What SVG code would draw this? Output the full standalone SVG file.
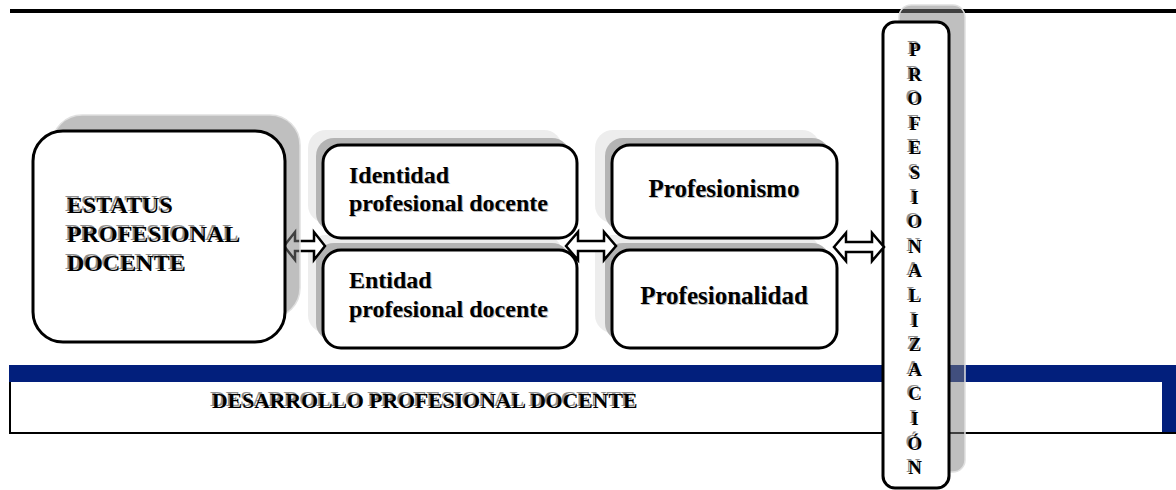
<svg xmlns="http://www.w3.org/2000/svg" width="1176" height="490" viewBox="0 0 1176 490">
<style>
.box{fill:#fff;stroke:#000;stroke-width:3}
.sh{fill:#808080;fill-opacity:.5;stroke:#e0e0e0;stroke-width:1.5}
.shl{fill:#ededed}
.shm{fill:#b4b4b4}
text{font-family:'Liberation Serif','DejaVu Serif',serif;font-weight:700}
.t{fill:#000}
.tg{fill:#8f8f8f}
.ts{fill:#bbbbbb}
.arr{fill:#fff;stroke:#000;stroke-width:2.5;stroke-linejoin:miter}
</style>
<rect id="topline" x="10" y="9" width="1166" height="4" fill="#000"/>
<g id="desarrollo">
<rect x="9" y="365" width="1167" height="17" fill="#021f7c"/>
<rect x="1162" y="365" width="14" height="68" fill="#021f7c"/>
<line x1="10" y1="382" x2="10" y2="434" stroke="#000" stroke-width="2"/>
<line x1="9" y1="433" x2="1176" y2="433" stroke="#000" stroke-width="2"/>
<text class="tg" x="210" y="406" font-size="21.7">DESARROLLO PROFESIONAL DOCENTE</text>
<text class="t" x="212" y="408" font-size="21.7">DESARROLLO PROFESIONAL DOCENTE</text>
</g>
<g id="entidad">
<rect class="shl" x="308" y="235" width="254" height="98" rx="18"/>
<rect class="shm" x="316" y="243" width="254" height="98" rx="18"/>
<rect class="box" x="323" y="250" width="254" height="98" rx="18"/>
<text class="ts" x="350" y="289" font-size="24">Entidad<tspan x="350" dy="29">profesional docente</tspan></text>
<text class="t" x="349" y="288" font-size="24">Entidad<tspan x="349" dy="29">profesional docente</tspan></text>
</g>
<g id="identidad">
<rect class="shl" x="308" y="130" width="254" height="93" rx="18"/>
<rect class="shm" x="316" y="138" width="254" height="93" rx="18"/>
<rect class="box" x="323" y="145" width="254" height="93" rx="18"/>
<text class="ts" x="350" y="184" font-size="24">Identidad<tspan x="350" dy="28">profesional docente</tspan></text>
<text class="t" x="349" y="183" font-size="24">Identidad<tspan x="349" dy="28">profesional docente</tspan></text>
</g>
<g id="profesionalidad">
<rect class="shl" x="595" y="235" width="225" height="98" rx="18"/>
<rect class="shm" x="605" y="243" width="225" height="98" rx="18"/>
<rect class="box" x="612" y="250" width="225" height="98" rx="18"/>
<text class="ts" x="725" y="305" font-size="25" text-anchor="middle">Profesionalidad</text>
<text class="t" x="724" y="304" font-size="25" text-anchor="middle">Profesionalidad</text>
</g>
<g id="profesionismo">
<rect class="shl" x="595" y="130" width="225" height="93" rx="18"/>
<rect class="shm" x="605" y="138" width="225" height="93" rx="18"/>
<rect class="box" x="612" y="145" width="225" height="93" rx="18"/>
<text class="ts" x="725" y="198" font-size="25" text-anchor="middle">Profesionismo</text>
<text class="t" x="724" y="197" font-size="25" text-anchor="middle">Profesionismo</text>
</g>
<g id="profesionalizacion">
<rect class="sh" x="899" y="5" width="66" height="467" rx="12"/>
<rect class="box" x="883" y="22" width="66" height="466" rx="12"/>
<text class="tg" font-size="19" text-anchor="middle"><tspan x="913" y="54">P</tspan><tspan x="913" dy="24.6">R</tspan><tspan x="913" dy="24.6">O</tspan><tspan x="913" dy="24.6">F</tspan><tspan x="913" dy="24.6">E</tspan><tspan x="913" dy="24.6">S</tspan><tspan x="913" dy="24.6">I</tspan><tspan x="913" dy="24.6">O</tspan><tspan x="913" dy="24.6">N</tspan><tspan x="913" dy="24.6">A</tspan><tspan x="913" dy="24.6">L</tspan><tspan x="913" dy="24.6">I</tspan><tspan x="913" dy="24.6">Z</tspan><tspan x="913" dy="24.6">A</tspan><tspan x="913" dy="24.6">C</tspan><tspan x="913" dy="24.6">I</tspan><tspan x="913" dy="24.6">Ó</tspan><tspan x="913" dy="24.6">N</tspan></text>
<text class="t" font-size="19" text-anchor="middle"><tspan x="915" y="56">P</tspan><tspan x="915" dy="24.6">R</tspan><tspan x="915" dy="24.6">O</tspan><tspan x="915" dy="24.6">F</tspan><tspan x="915" dy="24.6">E</tspan><tspan x="915" dy="24.6">S</tspan><tspan x="915" dy="24.6">I</tspan><tspan x="915" dy="24.6">O</tspan><tspan x="915" dy="24.6">N</tspan><tspan x="915" dy="24.6">A</tspan><tspan x="915" dy="24.6">L</tspan><tspan x="915" dy="24.6">I</tspan><tspan x="915" dy="24.6">Z</tspan><tspan x="915" dy="24.6">A</tspan><tspan x="915" dy="24.6">C</tspan><tspan x="915" dy="24.6">I</tspan><tspan x="915" dy="24.6">Ó</tspan><tspan x="915" dy="24.6">N</tspan></text>
</g>
<g id="connectors">
<path class="arr" d="M284,246 L295,232 L295,241 L314,241 L314,232 L325,246 L314,260 L314,251 L295,251 L295,260 Z"/>
<path class="arr" d="M566,246 L578,232 L578,241 L604,241 L604,232 L616,246 L604,260 L604,251 L578,251 L578,260 Z"/>
<path class="arr" d="M834,247 L846,233 L846,242 L872,242 L872,233 L884,247 L872,261 L872,252 L846,252 L846,261 Z"/>
</g>
<g id="estatus">
<rect class="sh" x="52" y="115" width="248" height="203" rx="30"/>
<rect class="box" x="33" y="131" width="252" height="211" rx="30"/>
<text class="tg" x="65" y="211" font-size="24">ESTATUS<tspan x="65" dy="29">PROFESIONAL</tspan><tspan x="65" dy="29">DOCENTE</tspan></text>
<text class="t" x="67" y="213" font-size="24">ESTATUS<tspan x="67" dy="29">PROFESIONAL</tspan><tspan x="67" dy="29">DOCENTE</tspan></text>
</g>
</svg>
